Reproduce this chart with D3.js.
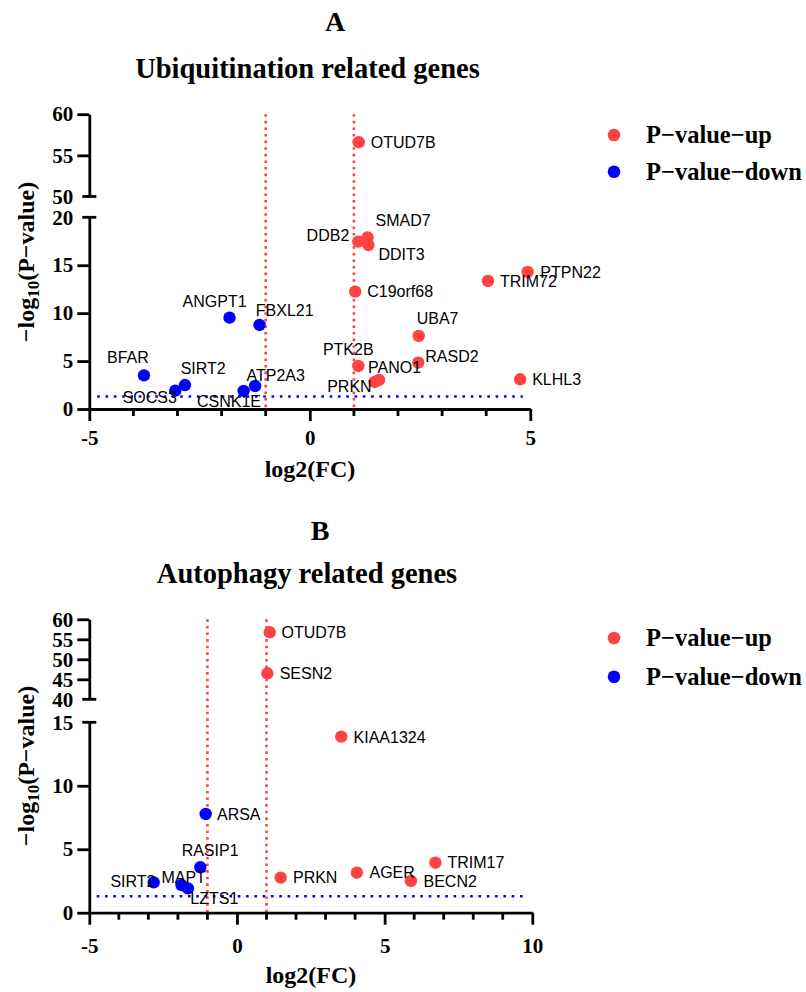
<!DOCTYPE html>
<html><head><meta charset="utf-8">
<script src="https://cdn.jsdelivr.net/npm/d3@7"></script>
<style>body{margin:0;background:#fff}svg{display:block}</style>
</head><body>
<svg id="chart" width="806" height="992"></svg>
<script>
// ---------- Panel A : Ubiquitination related genes ----------
const genesA   = ["OTUD7B","DDB2","SMAD7","DDIT3","C19orf68","TRIM72","PTPN22","UBA7","RASD2","PTK2B","PANO1","PRKN","KLHL3",
                  "ANGPT1","FBXL21","BFAR","SIRT2","SOCS3","CSNK1E","ATP2A3"];
const log2fcA  = [1.11,1.10,1.31,1.33,1.03,4.04,4.94,2.47,2.46,1.10,1.57,1.47,4.77,
                  -1.82,-1.14,-3.76,-2.83,-3.05,-1.50,-1.24];
const negLogPA = [56.6,17.46,17.9,17.1,12.25,13.36,14.3,7.62,4.84,4.49,3.03,2.82,3.1,
                  9.53,8.77,3.51,2.5,1.91,1.88,2.4];
const groupA   = ["up","up","up","up","up","up","up","up","up","up","up","up","up",
                  "down","down","down","down","down","down","down"];

// ---------- Panel B : Autophagy related genes ----------
const genesB   = ["OTUD7B","SESN2","KIAA1324","PRKN","AGER","BECN2","TRIM17",
                  "ARSA","RASIP1","SIRT2","MAPT","LZTS1"];
const log2fcB  = [1.11,1.03,3.53,1.48,4.06,5.89,6.72,
                  -1.06,-1.24,-2.82,-1.88,-1.66];
const negLogPB = [56.75,46.5,13.87,2.76,3.15,2.5,3.94,
                  7.78,3.58,2.39,2.18,1.92];
const groupB   = ["up","up","up","up","up","up","up",
                  "down","down","down","down","down"];

// ---------- axis ticks / reference lines ----------
const xTicksA = [-5,0,5];
const xTicksB = [-5,0,5,10];
const yTicksLowA = [0,5,10,15,20];
const yTicksHighA = [50,55,60];
const yTicksLowB = [0,5,10,15];
const yTicksHighB = [40,45,50,55,60];
const fcCutoffs = [-1,1];
const pCutoff = 1.3;
const legendLabels = ["P\u2212value\u2212up","P\u2212value\u2212down"];
const legendGroups = ["up","down"];

// ---------- styles / layout ----------
const colors = {up:"#FF4242", down:"#0000FF"};
const SERIF = "'Liberation Serif','Times New Roman',serif";
const SANS = "'Liberation Sans',Arial,sans-serif";

// label placement relative to point [dx, dy, anchor]
const labelPosA = {
  OTUD7B:[12,5.6,"start"], DDB2:[-9,-1,"end"], SMAD7:[8,-11,"start"], DDIT3:[10,15,"start"],
  C19orf68:[12,5.6,"start"], TRIM72:[12,5.7,"start"], PTPN22:[12.7,6.3,"start"], UBA7:[-2,-12,"start"],
  RASD2:[7,-1,"start"], PTK2B:[-35.4,-11,"start"], PANO1:[-11,-6.7,"start"], PRKN:[-3,9.7,"end"],
  KLHL3:[12,5.7,"start"], ANGPT1:[-47,-10.4,"start"], FBXL21:[-3.7,-9.3,"start"], BFAR:[-37,-12,"start"],
  SIRT2:[-4.3,-10.7,"start"], SOCS3:[-52.6,12.6,"start"], CSNK1E:[-46.7,15.7,"start"], ATP2A3:[-8.6,-5.3,"start"]
};
const labelPosB = {
  OTUD7B:[11.7,5.4,"start"], SESN2:[12.3,6,"start"], KIAA1324:[12.3,6,"start"], PRKN:[12.3,5.6,"start"],
  AGER:[12.6,5.6,"start"], BECN2:[12.6,5.7,"start"], TRIM17:[12,5.6,"start"], ARSA:[11.3,6,"start"],
  RASIP1:[-18.7,-11.6,"start"], SIRT2:[-43.3,4.4,"start"], MAPT:[-20,-2.3,"start"], LZTS1:[2.4,15.7,"start"]
};

const svg = d3.select("#chart");

function panel(o){
  const g = svg.append("g");
  const x = d3.scaleLinear().domain(o.xDomain).range(o.xRange);
  const yLo = d3.scaleLinear().domain(o.yLoDomain).range(o.yLoRange);
  const yHi = d3.scaleLinear().domain(o.yHiDomain).range(o.yHiRange);
  const yPos = v => v >= o.yHiDomain[0] ? yHi(v) : yLo(v);
  const x0 = o.xRange[0];
  const data = o.genes.map((gname,i)=>({gene:gname, fc:o.fc[i], p:o.p[i], grp:o.grp[i]}));

  // titles
  g.append("text").attr("x",o.letterX).attr("y",o.letterY).attr("text-anchor","middle")
    .attr("font-family",SERIF).attr("font-weight","bold").attr("font-size",28).text(o.letter);
  g.append("text").attr("x",o.titleX).attr("y",o.titleY).attr("text-anchor","middle")
    .attr("font-family",SERIF).attr("font-weight","bold").attr("font-size",28.5).text(o.title);

  // reference lines
  g.selectAll(".vline").data(fcCutoffs).join("line")
    .attr("x1",d=>x(d)).attr("x2",d=>x(d))
    .attr("y1",yHi(o.yHiDomain[1])).attr("y2",yLo(0))
    .attr("stroke",colors.up).attr("stroke-width",2.6).attr("stroke-dasharray","2.6,4");
  g.append("line")
    .attr("x1",x(o.hLineFrom)).attr("x2",x(o.hLineTo))
    .attr("y1",yLo(pCutoff)).attr("y2",yLo(pCutoff))
    .attr("stroke",colors.down).attr("stroke-width",2.6).attr("stroke-dasharray","2.6,5.7");

  // points
  g.selectAll(".pt").data(data).join("circle")
    .attr("cx",d=>x(d.fc)).attr("cy",d=>yPos(d.p)).attr("r",6.2)
    .attr("fill",d=>colors[d.grp]);

  // labels
  g.selectAll(".lab").data(data).join("text")
    .attr("x",d=>x(d.fc)+o.labelPos[d.gene][0])
    .attr("y",d=>yPos(d.p)+o.labelPos[d.gene][1])
    .attr("text-anchor",d=>o.labelPos[d.gene][2])
    .attr("font-family",SANS).attr("font-size",16).attr("fill","#000")
    .text(d=>d.gene);

  // y axis lower segment
  const axLo = g.append("g").attr("transform",`translate(${x0},0)`)
    .call(d3.axisLeft(yLo).tickValues(o.yTicksLo).tickSize(12).tickSizeOuter(0).tickPadding(4).tickFormat(d=>String(d)));
  const axHi = g.append("g").attr("transform",`translate(${x0},0)`)
    .call(d3.axisLeft(yHi).tickValues(o.yTicksHi).tickSize(12).tickSizeOuter(0).tickPadding(4).tickFormat(d=>String(d)));
  // break ends: remove normal tick, draw cap
  axLo.selectAll(".tick").filter(d=>d===o.yLoDomain[1]).select("line").remove();
  axHi.selectAll(".tick").filter(d=>d===o.yHiDomain[0]).select("line").remove();
  [yLo(o.yLoDomain[1]), yHi(o.yHiDomain[0])].forEach(yy=>{
    g.append("line").attr("x1",x0-7).attr("x2",x0+7).attr("y1",yy).attr("y2",yy)
      .attr("stroke","#000").attr("stroke-width",2.8);
  });

  // x axis
  const axX = g.append("g").attr("transform",`translate(0,${yLo(0)})`)
    .call(d3.axisBottom(x).tickValues(o.xTicks).tickSize(12).tickSizeOuter(0).tickPadding(o.xPad).tickFormat(d=>String(d)));
  const minor = d3.range(o.xDomain[0],o.xDomain[1]+1).filter(v=>!o.xTicks.includes(v));
  axX.selectAll(".minor").data(minor).join("line")
    .attr("x1",d=>x(d)).attr("x2",d=>x(d)).attr("y1",0).attr("y2",7)
    .attr("stroke","#000").attr("stroke-width",2.8);

  [axLo,axHi,axX].forEach(a=>{
    a.selectAll("path.domain").attr("stroke","#000").attr("stroke-width",2.8);
    a.selectAll(".tick line").attr("stroke","#000").attr("stroke-width",2.8);
    a.selectAll("text").attr("font-family",SERIF).attr("font-weight","bold").attr("font-size",21).attr("fill","#000");
  });

  // axis titles
  g.append("text").attr("x",o.xTitleX).attr("y",o.xTitleY).attr("text-anchor","middle")
    .attr("font-family",SERIF).attr("font-weight","bold").attr("font-size",24).text("log2(FC)");
  const yt = g.append("text").attr("transform",`translate(34,${o.yTitleY}) rotate(-90)`)
    .attr("text-anchor","middle").attr("font-family",SERIF).attr("font-weight","bold").attr("font-size",24);
  yt.append("tspan").text("\u2212log");
  yt.append("tspan").attr("font-size",17).attr("dy",5).text("10");
  yt.append("tspan").attr("dy",-5).text("(P\u2212value)");

  // legend
  const lg = g.append("g");
  legendGroups.forEach((grp,i)=>{
    lg.append("circle").attr("cx",614).attr("cy",o.legendY[i]).attr("r",6.3).attr("fill",colors[grp]);
    lg.append("text").attr("x",646).attr("y",o.legendY[i]+8.3)
      .attr("font-family",SERIF).attr("font-weight","bold").attr("font-size",24.5).text(legendLabels[i]);
  });
}

panel({
  letter:"A", letterX:335, letterY:31, title:"Ubiquitination related genes", titleX:307.5, titleY:77.5,
  genes:genesA, fc:log2fcA, p:negLogPA, grp:groupA, labelPos:labelPosA,
  xDomain:[-5,5], xRange:[89.3,530.3], xTicks:xTicksA, xPad:9,
  yLoDomain:[0,20], yLoRange:[409,217.3], yTicksLo:yTicksLowA,
  yHiDomain:[50,60], yHiRange:[196.5,114.2], yTicksHi:yTicksHighA,
  hLineFrom:-4.82, hLineTo:4.83,
  xTitleX:310, xTitleY:477, yTitleY:262, legendY:[135,171.7]
});
panel({
  letter:"B", letterX:320, letterY:540, title:"Autophagy related genes", titleX:307, titleY:582.5,
  genes:genesB, fc:log2fcB, p:negLogPB, grp:groupB, labelPos:labelPosB,
  xDomain:[-5,10], xRange:[89.3,532.3], xTicks:xTicksB, xPad:13,
  yLoDomain:[0,15], yLoRange:[912.7,722.3], yTicksLo:yTicksLowB,
  yHiDomain:[40,60], yHiRange:[699.3,619.3], yTicksHi:yTicksHighB,
  hLineFrom:-4.75, hLineTo:9.75,
  xTitleX:311, xTitleY:983, yTitleY:766, legendY:[638,676.7]
});
</script>
</body></html>
